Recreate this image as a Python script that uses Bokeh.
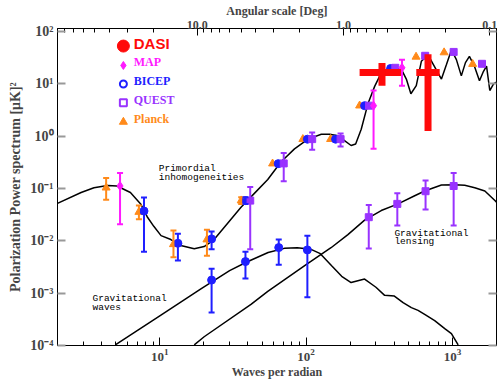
import math
from bokeh.plotting import figure
from bokeh.models import (Range1d, LogScale, LogAxis, FixedTicker, CustomJSTickFormatter,
                          ColumnDataSource, Whisker, TeeHead)
from bokeh.core.properties import value
from bokeh.embed import file_html
from bokeh.resources import INLINE

# ---------------- theory curves (multipole, power) ----------------
e_ell = [2.0, 2.9, 3.55, 4.4, 5.1, 6.3, 7.4, 8.2, 9.1, 10.2, 11.9, 13.9, 17.2, 20.1, 23.5,
         29.1, 35.9, 44.3, 54.7, 67.5, 83.3, 103, 127, 145, 165, 183, 203, 218, 238, 265,
         294, 327, 365, 401, 448, 484, 520, 566, 613, 681, 741, 841, 910, 984, 1064, 1150,
         1227, 1306, 1415, 1530, 1630, 1710, 1800, 1910, 2000]
e_val = [0.052, 0.084, 0.104, 0.115, 0.112, 0.084, 0.051, 0.029, 0.019, 0.0126, 0.0106, 0.0082,
         0.0071, 0.0078, 0.0106, 0.0217, 0.044, 0.081, 0.149, 0.326, 0.575, 0.883, 1.09, 1.09,
         1.02, 0.825, 0.666, 0.71, 1.36, 4.25, 9.0, 16.5, 19.8, 20.4, 19.0, 12.4, 6.5, 9.3,
         27.1, 36.0, 23.5, 12.4, 23.5, 44.7, 29.2, 14.3, 25.6, 33.6, 21.6, 11.5, 17.5, 21.9,
         7.5, 10.0, 10.9]

gw_ell = [5.0, 10, 19.1, 30, 39, 55, 71, 87, 108, 125, 150, 175, 203, 251, 300, 344, 401,
          460, 524, 582, 650, 756, 886, 984, 1094]
gw_val = [1.04e-4, 3.7e-4, 0.00121, 0.0027, 0.0039, 0.0060, 0.0072, 0.0074, 0.0069, 0.0057,
          0.0033, 0.0021, 0.0016, 0.00186, 0.0013, 0.00091, 0.00088, 0.00066, 0.00053, 0.00047,
          0.00039, 0.0003, 0.00021, 0.000169, 1.03e-4]

lens_ell = [17.2, 20.1, 42, 54.7, 100, 148, 193, 251, 326, 425, 552, 646, 841, 1037, 1214,
            1421, 1665, 1950, 2000]
lens_val = [1.03e-4, 1.47e-4, 6.1e-4, 0.00108, 0.0035, 0.0074, 0.0132, 0.025, 0.038, 0.051,
            0.073, 0.090, 0.117, 0.118, 0.116, 0.104, 0.090, 0.059, 0.055]

# ---------------- measurements ----------------
nan = float("nan")
planck_ell = [4.3, 7.2, 12.4, 21, 36, 59, 95, 147, 232, 564, 877, 1374]
planck_val = [0.104, 0.0356, 0.0086, 0.0106, 0.059, 0.30, 0.88, 0.88, 3.85, 33.0, 40.0, 24.0]
planck_hi = [0.16, 0.0475, 0.0158, 0.0163, 0.068, nan, nan, nan, nan, nan, nan, nan]
planck_lo = [0.0614, 0.0258, 0.00485, 0.0052, 0.051, nan, nan, nan, nan, nan, nan, nan]

bicep_ell = [7.8, 13.3, 22.6, 38.5, 64.5, 102, 159, 251, 378]
bicep_val = [0.0372, 0.0090, 0.0109, 0.059, 0.30, 0.88, 0.88, 3.85, 19.8]
bicep_hi = [0.0678, 0.0137, 0.0151, 0.068, nan, nan, nan, nan, nan]
bicep_lo = [0.00617, 0.0042, 0.0069, 0.051, nan, nan, nan, nan, nan]

bicepB_ell = [22.6, 38.5, 65, 102]
bicepB_val = [0.00178, 0.00402, 0.00744, 0.00672]
bicepB_hi = [0.00294, 0.00617, 0.0106, 0.0126]
bicepB_lo = [0.000429, 0.00192, 0.00349, 0.00084]

quest_ell = [41.5, 70.3, 110, 172, 269, 407, 651, 1019, 1592]
quest_val = [0.0589, 0.303, 0.883, 0.883, 3.85, 20.4, 34.6, 41.0, 24.3]
quest_hi = [0.107, 0.479, 1.18, 1.13, nan, nan, nan, nan, nan]
quest_lo = [0.0069, 0.138, 0.552, 0.638, nan, nan, nan, nan, nan]

questB_ell = [268, 420, 655, 1019]
questB_val = [0.0284, 0.051, 0.0891, 0.112]
questB_hi = [0.0485, 0.081, 0.143, 0.199]
questB_lo = [0.00716, 0.0196, 0.040, 0.0196]

map_ell = [5.35, 289, 452]
map_val = [0.112, 3.85, 20.4]
map_hi = [0.198, 7.5, 29.2]
map_lo = [0.0208, 0.575, 9.3]

dasi_ell = [330, 681]
dasi_val = [16.5, 16.5]
dasi_ell_lo = [232, 566]
dasi_ell_hi = [448, 818]
dasi_lo = [9.3, 1.26]
dasi_hi = [25.3, 37.2]

# ---------------- axes ----------------
x_lo, x_hi = 2, 2000
y_lo, y_hi = 1e-4, 115
x_ticks = [10, 100, 1000]
x_minor = [3, 4, 5, 6, 7, 8, 9, 20, 30, 40, 50, 60, 70, 80, 90,
           200, 300, 400, 500, 600, 700, 800, 900]
y_ticks = [1e-4, 1e-3, 1e-2, 1e-1, 1, 10, 100]
ang_ticks = [10, 1, 0.1]
ang_minor = [80, 70, 60, 50, 40, 30, 20, 9, 8, 7, 6, 5, 4, 3, 2,
             0.9, 0.8, 0.7, 0.6, 0.5, 0.4, 0.3, 0.2]

legend_names = ["DASI", "MAP", "BICEP", "QUEST", "Planck"]

C_DASI = "#ff0a0a"
C_MAP = "#ff1aff"
C_BICEP = "#1f1fff"
C_QUEST = "#9933ff"
C_PLANCK = "#ff8a1a"

SERIF = "Liberation Serif"
MONO = "Liberation Mono"

p = figure(width=502, height=381, x_axis_type="log", y_axis_type="log",
           x_range=Range1d(x_lo, x_hi), y_range=Range1d(y_lo, y_hi),
           output_backend="svg", toolbar_location=None,
           min_border_left=57, min_border_right=6, min_border_top=0, min_border_bottom=32)
p.grid.visible = False
p.outline_line_color = "black"
p.background_fill_color = "white"
p.border_fill_color = "white"

sup_code = """
const e = Math.round(Math.log10(tick));
const m = {"-":"\u207b","0":"\u2070","1":"\u00b9","2":"\u00b2","3":"\u00b3","4":"\u2074"};
return "10" + String(e).split("").map(c => m[c]).join("");
"""

xa = p.xaxis[0]
xa.ticker = FixedTicker(ticks=x_ticks, minor_ticks=x_minor)
xa.axis_label = "Waves per radian"
xa.major_tick_in, xa.major_tick_out = 8, 0
xa.minor_tick_in, xa.minor_tick_out = 4, 0
xa.major_label_text_font = SERIF
xa.major_label_text_font_style = "bold"
xa.major_label_text_font_size = "13px"
xa.major_label_standoff = 3
xa.axis_label_text_font = SERIF
xa.axis_label_text_font_style = "bold"
xa.axis_label_text_font_size = "12px"
xa.axis_label_standoff = 1

ya = p.yaxis[0]
ya.ticker = FixedTicker(ticks=y_ticks, minor_ticks=[])
ya.formatter = CustomJSTickFormatter(code=sup_code)
ya.axis_label = "Polarization Power spectrum [\u03bcK]\u00b2"
ya.major_tick_in, ya.major_tick_out = 8, 0
ya.major_tick_line_color = "#999999"
ya.major_tick_line_width = 2
ya.minor_tick_line_color = None
ya.major_label_text_font = SERIF
ya.major_label_text_font_style = "bold"
ya.major_label_text_font_size = "14px"
ya.major_label_standoff = 4
ya.axis_label_text_font = SERIF
ya.axis_label_text_font_style = "bold"
ya.axis_label_text_font_size = "14px"
ya.axis_label_standoff = 4

# top axis: angular scale in degrees = 180 / ell
p.extra_x_ranges = {"ang": Range1d(180 / x_lo, 180 / x_hi)}
p.extra_x_scales = {"ang": LogScale()}
top = LogAxis(x_range_name="ang", ticker=FixedTicker(ticks=ang_ticks, minor_ticks=ang_minor),
              formatter=CustomJSTickFormatter(code="return tick.toFixed(1)"),
              axis_label="Angular scale [Deg]")
top.major_tick_in, top.major_tick_out = 7, 0
top.minor_tick_in, top.minor_tick_out = 4, 0
top.major_label_text_font = SERIF
top.major_label_text_font_style = "bold"
top.major_label_text_font_size = "12px"
top.major_label_standoff = 0
top.axis_label_text_font = SERIF
top.axis_label_text_font_style = "bold"
top.axis_label_text_font_size = "12px"
top.axis_label_standoff = 0
p.add_layout(top, "above")

right = LogAxis(ticker=FixedTicker(ticks=y_ticks, minor_ticks=[]),
                formatter=CustomJSTickFormatter(code="return ''"))
right.major_tick_in, right.major_tick_out = 8, 0
right.major_tick_line_color = "#999999"
right.major_tick_line_width = 2
right.minor_tick_line_color = None
right.major_label_standoff = 0
p.add_layout(right, "right")

# ---------------- curves ----------------
for xs, ys in [(e_ell, e_val), (gw_ell, gw_val), (lens_ell, lens_val)]:
    p.line(xs, ys, line_color="black", line_width=1.5)

# ---------------- error bars ----------------
def bars(xs, hi, lo, color):
    keep = [i for i in range(len(xs)) if not math.isnan(hi[i])]
    src = ColumnDataSource(dict(x=[xs[i] for i in keep], hi=[hi[i] for i in keep],
                                lo=[lo[i] for i in keep]))
    w = Whisker(base="x", upper="hi", lower="lo", source=src, dimension="height",
                line_color=color, line_width=2,
                upper_head=TeeHead(size=6, line_color=color, line_width=2),
                lower_head=TeeHead(size=6, line_color=color, line_width=2))
    w.level = "glyph"
    p.add_layout(w)

bars(planck_ell, planck_hi, planck_lo, C_PLANCK)
p.scatter(planck_ell, planck_val, marker="triangle", size=8, color=C_PLANCK)
bars(bicep_ell, bicep_hi, bicep_lo, C_BICEP)
bars(bicepB_ell, bicepB_hi, bicepB_lo, C_BICEP)
p.scatter(bicep_ell, bicep_val, marker="circle", size=8, color=C_BICEP)
p.scatter(bicepB_ell, bicepB_val, marker="circle", size=8, color=C_BICEP)
bars(quest_ell, quest_hi, quest_lo, C_QUEST)
bars(questB_ell, questB_hi, questB_lo, C_QUEST)
p.scatter(quest_ell, quest_val, marker="square", size=7, color=C_QUEST)
p.scatter(questB_ell, questB_val, marker="square", size=7, color=C_QUEST)
bars(map_ell, map_hi, map_lo, C_MAP)
p.scatter(map_ell, map_val, marker="diamond", size=9, color=C_MAP)

p.segment(dasi_ell_lo, dasi_val, dasi_ell_hi, dasi_val, line_color=C_DASI, line_width=7)
p.segment(dasi_ell, dasi_lo, dasi_ell, dasi_hi, line_color=C_DASI, line_width=7)

# ---------------- legend (hand drawn, as in the original) ----------------
leg_x = 5.64
leg_tx = 6.64
leg_y = [53.1, 22.6, 10.0, 4.38, 1.88]
p.scatter([leg_x], [leg_y[0]], marker="circle", size=12, color=C_DASI)
p.scatter([leg_x], [leg_y[1]], marker="diamond", size=8, color=C_MAP)
p.scatter([leg_x], [leg_y[2]], marker="circle", size=7, fill_color=None,
          line_color=C_BICEP, line_width=2)
p.scatter([leg_x], [leg_y[3]], marker="square", size=7, fill_color=None,
          line_color=C_QUEST, line_width=2)
p.scatter([leg_x], [leg_y[4]], marker="triangle", size=8, color=C_PLANCK)
leg_cols = [C_DASI, C_MAP, C_BICEP, C_QUEST, C_PLANCK]
for i, name in enumerate(legend_names):
    if i == 0:
        font, size = "Liberation Sans", "15px"
    else:
        font, size = SERIF, "12px"
    p.text([leg_tx], [leg_y[i]], text=[name], text_color=leg_cols[i],
           text_font=value(font), text_font_style="bold", text_font_size=size,
           text_baseline="middle", y_offset=-3)

# ---------------- curve annotations ----------------
notes = [(9.84, 0.244, "Primordial"), (9.84, 0.164, "inhomogeneities"),
         (3.47, 7.8e-4, "Gravitational"), (3.47, 5.42e-4, "waves"),
         (401, 0.01375, "Gravitational"), (401, 0.00975, "lensing")]
for nx, ny, t in notes:
    p.text([nx], [ny], text=[t], text_color="black", text_font=value(MONO),
           text_font_size="9.5px", text_baseline="alphabetic")

open("out.html", "w").write(file_html(p, INLINE))
